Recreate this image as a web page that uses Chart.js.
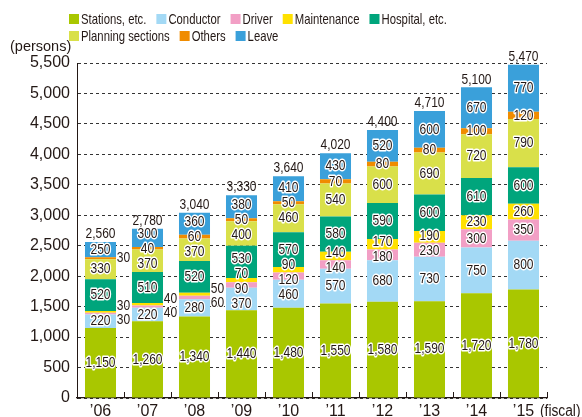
<!DOCTYPE html>
<html>
<head>
<meta charset="utf-8">
<script src="https://cdn.jsdelivr.net/npm/chart.js@4.4.1/dist/chart.umd.min.js"></script>
<style>
  html, body { margin: 0; padding: 0; background: #fff; }
  #wrap { width: 582px; height: 417px; position: relative; }
</style>
</head>
<body>
<div id="wrap"><canvas id="staffChart"></canvas></div>
<script>
const years = ['\u201906', '\u201907', '\u201908', '\u201909', '\u201910', '\u201911', '\u201912', '\u201913', '\u201914', '\u201915'];
const stations    = [1150, 1260, 1340, 1440, 1480, 1550, 1580, 1590, 1720, 1780];
const conductor   = [220, 220, 280, 370, 460, 570, 680, 730, 750, 800];
const driver      = [30, 40, 60, 90, 120, 140, 180, 230, 300, 350];
const maintenance = [30, 40, 50, 70, 90, 140, 170, 190, 230, 260];
const hospital    = [520, 510, 520, 530, 570, 580, 590, 600, 610, 600];
const planning    = [330, 370, 370, 400, 460, 540, 600, 690, 720, 790];
const others      = [30, 40, 60, 50, 50, 70, 80, 80, 100, 120];
const leave       = [250, 300, 360, 380, 410, 430, 520, 600, 670, 770];
const yMax = 5500;
const yStep = 500;

// small segments whose value is written beside the bar (by year index)
const sideLabels = { 'Driver': [0, 1, 2], 'Maintenance': [0, 1, 2], 'Others': [0] };

const series = [
  { label: 'Stations, etc.', data: stations, color: '#a9c700' },
  { label: 'Conductor', data: conductor, color: '#a3d9f5' },
  { label: 'Driver', data: driver, color: '#f29fc5' },
  { label: 'Maintenance', data: maintenance, color: '#ffe100' },
  { label: 'Hospital, etc.', data: hospital, color: '#00a57c' },
  { label: 'Planning sections', data: planning, color: '#d9e04a' },
  { label: 'Others', data: others, color: '#f08c00' },
  { label: 'Leave', data: leave, color: '#3aa0da' }
];

const FONT = '"Liberation Sans", Arial, sans-serif';
const INK = '#231815';
const fmt = v => v.toLocaleString('en-US');

function narrowText(ctx, text, x, y, sx, halo) {
  ctx.save();
  ctx.translate(x, y);
  ctx.scale(sx, 1);
  if (halo) {
    ctx.lineWidth = 3;
    ctx.lineJoin = 'round';
    ctx.strokeStyle = '#fff';
    ctx.strokeText(text, 0, 0);
  }
  ctx.fillText(text, 0, 0);
  ctx.restore();
}

const valueLabels = {
  id: 'valueLabels',
  afterDatasetsDraw(chart) {
    const ctx = chart.ctx;
    ctx.save();
    ctx.font = '15px ' + FONT;
    ctx.fillStyle = INK;
    ctx.textAlign = 'center';
    ctx.textBaseline = 'middle';
    chart.data.labels.forEach((lab, i) => {
      const items = [];
      let top = Infinity;
      let total = 0;
      chart.data.datasets.forEach((ds, d) => {
        const bar = chart.getDatasetMeta(d).data[i];
        const p = bar.getProps(['x', 'y', 'base', 'width'], true);
        const v = ds.data[i];
        total += v;
        top = Math.min(top, p.y);
        const side = sideLabels[ds.label];
        if (side && side.includes(i)) {
          let ly = (p.y + p.base) / 2;
          if (ds.label === 'Driver') ly = p.y + 7;
          if (ds.label === 'Maintenance') ly = p.base - 7;
          narrowText(ctx, fmt(v), p.x + p.width / 2 + 7.5, ly, 0.8, true);
        } else {
          items.push({ text: fmt(v), x: p.x, y: (p.y + p.base) / 2 });
        }
      });
      // spread labels of thin neighbouring segments apart
      const gap = 15;
      for (let k = 0; k < 30; k++) {
        for (let j = 0; j < items.length - 1; j++) {
          const g = items[j].y - items[j + 1].y;
          if (g < gap) {
            const s = (gap - g) / 2;
            items[j].y += s;
            items[j + 1].y -= s;
          }
        }
      }
      items.forEach(it => narrowText(ctx, it.text, it.x, it.y, 0.8, true));
      const x = chart.getDatasetMeta(0).data[i].x;
      narrowText(ctx, fmt(total), x, top - 8, 0.8, false);
    });
    ctx.restore();
  }
};

const extras = {
  id: 'extras',
  afterDraw(chart) {
    const ctx = chart.ctx;
    const area = chart.chartArea;
    const n = chart.data.labels.length;
    ctx.save();
    // small upward ticks between the years
    ctx.strokeStyle = INK;
    ctx.lineWidth = 1;
    ctx.beginPath();
    for (let i = 1; i <= n; i++) {
      const bx = Math.round(area.left + i * area.width / n) + 0.5;
      ctx.moveTo(bx, area.bottom - 6);
      ctx.lineTo(bx, area.bottom);
    }
    ctx.stroke();

    ctx.fillStyle = INK;
    ctx.textBaseline = 'middle';
    ctx.textAlign = 'left';
    ctx.font = '14.5px ' + FONT;
    ctx.fillText('(persons)', 10, 47);
    ctx.font = '16px ' + FONT;
    narrowText(ctx, '(fiscal)', 540, 411.5, 0.86, false);

    // legend
    ctx.font = '14.5px ' + FONT;
    const rows = [19, 36];
    let row = 0;
    let x = 69;
    chart.data.datasets.forEach(ds => {
      const tw = ctx.measureText(ds.label).width * 0.78;
      if (x + 12 + tw > 500) { row++; x = 69; }
      const cy = rows[row];
      ctx.fillStyle = ds.backgroundColor;
      ctx.fillRect(x, cy - 5, 10, 10);
      ctx.fillStyle = INK;
      narrowText(ctx, ds.label, x + 12, cy + 0.5, 0.78, false);
      x += 12 + tw + 10;
    });
    ctx.restore();
  }
};

const ctx = document.getElementById('staffChart').getContext('2d');
new Chart(ctx, {
  type: 'bar',
  data: {
    labels: years,
    datasets: series.map(s => ({
      label: s.label,
      data: s.data,
      backgroundColor: s.color,
      borderWidth: 0,
      barPercentage: 0.66,
      categoryPercentage: 1
    }))
  },
  options: {
    responsive: true,
    maintainAspectRatio: false,
    animation: false,
    locale: 'en-US',
    layout: { padding: { top: 63, right: 35, left: 0, bottom: 0 } },
    plugins: {
      legend: { display: false },
      tooltip: { enabled: false }
    },
    scales: {
      x: {
        stacked: true,
        grid: { display: false, drawTicks: false },
        border: { color: INK, width: 1.2 },
        ticks: { color: INK, font: { family: FONT, size: 16 }, padding: 4 },
        afterFit: s => { s.height = 19; }
      },
      y: {
        stacked: true,
        min: 0,
        max: yMax,
        ticks: { stepSize: yStep, color: INK, font: { family: FONT, size: 16 }, padding: 7 },
        grid: { color: '#333', drawTicks: false, borderDash: [3, 3] },
        border: { color: INK, width: 1, dash: [3, 3] },
        afterFit: s => { s.width = 77; }
      }
    }
  },
  plugins: [valueLabels, extras]
});
</script>
</body>
</html>
